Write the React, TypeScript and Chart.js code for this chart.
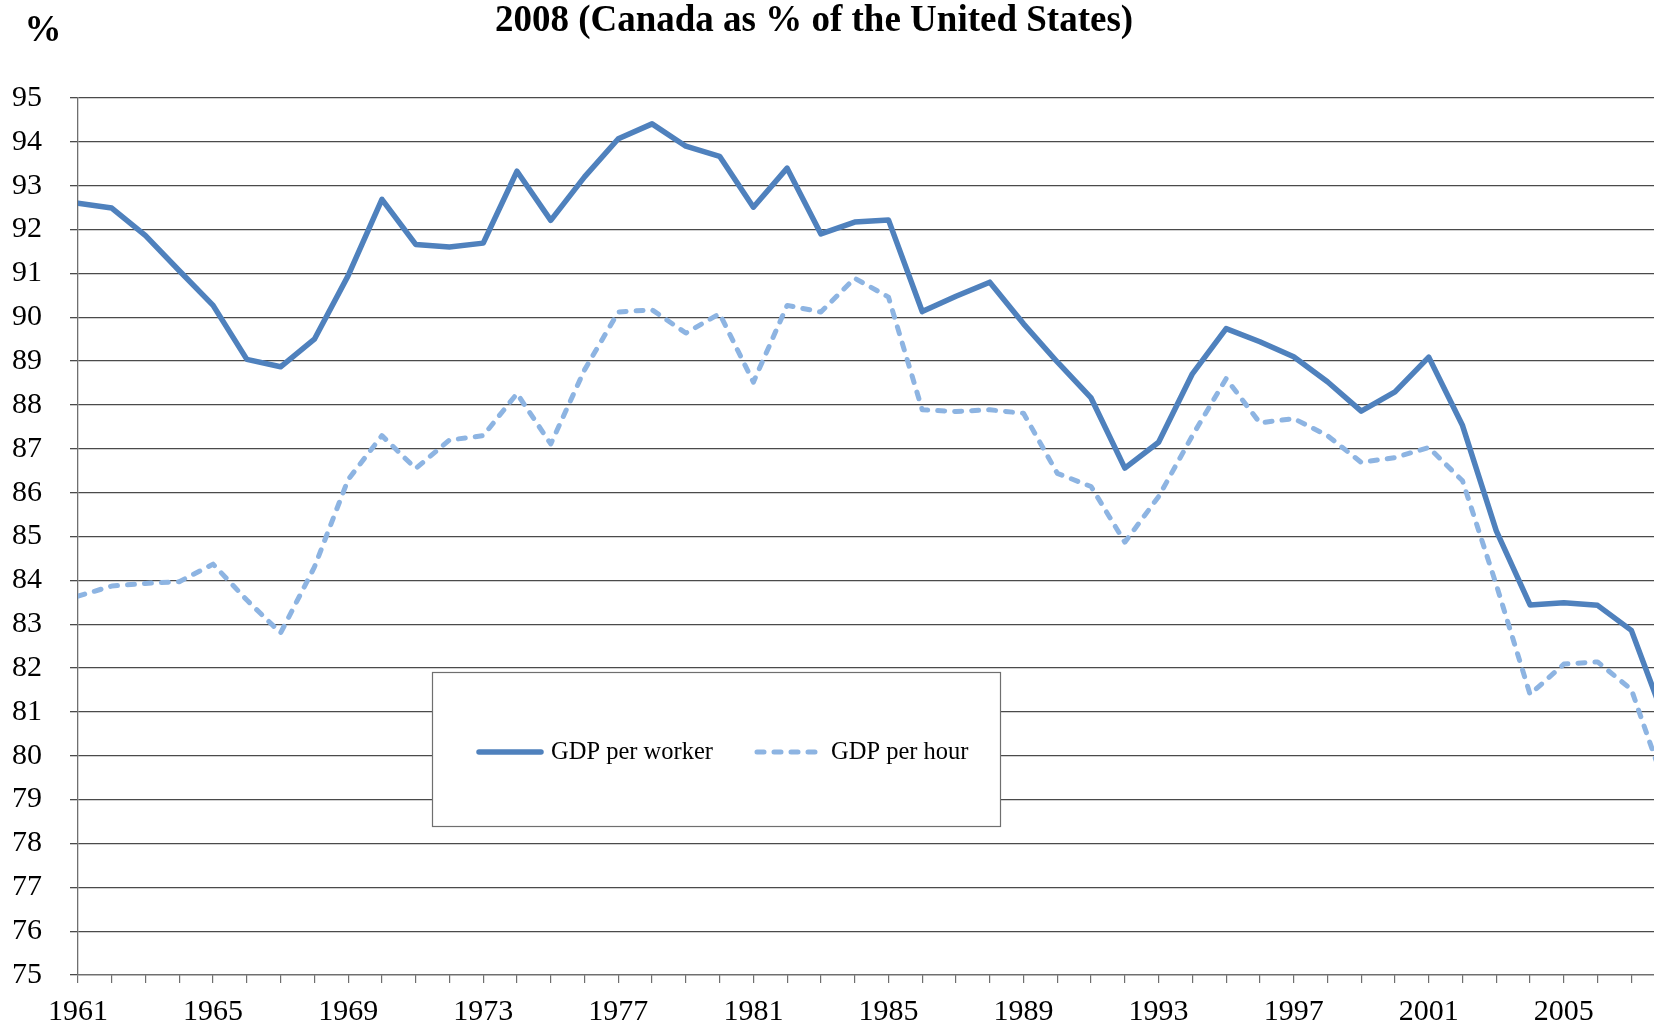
import React, { useEffect, useRef } from "react";
import { Chart, registerables } from "chart.js";

Chart.register(...registerables);

const years: number[] = [
  1961, 1962, 1963, 1964, 1965, 1966, 1967, 1968, 1969, 1970,
  1971, 1972, 1973, 1974, 1975, 1976, 1977, 1978, 1979, 1980,
  1981, 1982, 1983, 1984, 1985, 1986, 1987, 1988, 1989, 1990,
  1991, 1992, 1993, 1994, 1995, 1996, 1997, 1998, 1999, 2000,
  2001, 2002, 2003, 2004, 2005, 2006, 2007, 2008,
];

const gdpPerWorker: number[] = [
  92.6, 92.49, 91.86, 91.06, 90.27, 89.04, 88.87, 89.5, 90.95, 92.69,
  91.66, 91.6, 91.69, 93.33, 92.21, 93.2, 94.07, 94.41, 93.9, 93.67,
  92.51, 93.4, 91.9, 92.17, 92.22, 90.13, 90.48, 90.8, 89.85, 88.98,
  88.16, 86.56, 87.15, 88.71, 89.74, 89.44, 89.1, 88.53, 87.86, 88.3,
  89.09, 87.53, 85.13, 83.44, 83.49, 83.43, 82.86, 80.8,
];

const gdpPerHour: number[] = [
  83.64, 83.87, 83.93, 83.97, 84.37, 83.55, 82.8, 84.3, 86.3, 87.3,
  86.55, 87.2, 87.3, 88.26, 87.11, 88.8, 90.12, 90.17, 89.64, 90.08,
  88.52, 90.27, 90.12, 90.89, 90.46, 87.89, 87.85, 87.89, 87.81, 86.44,
  86.14, 84.87, 85.91, 87.3, 88.6, 87.59, 87.69, 87.3, 86.69, 86.8,
  87.03, 86.27, 83.9, 81.4, 82.09, 82.14, 81.51, 79.3,
];

const seriesLabels: string[] = ["GDP per worker", "GDP per hour"];
const titleText = "2008 (Canada as % of the United States)";
const unitText = "%";

const FONT = "'Liberation Serif', 'Times New Roman', serif";
const SOLID = "#4F81BD";
const DASHED = "#8DB4E2";

const overlayPlugin = {
  id: "overlay",
  afterDraw(chart: any) {
    const ctx = chart.ctx as CanvasRenderingContext2D;
    ctx.save();
    // title + unit
    ctx.fillStyle = "#000";
    ctx.font = `bold 37px ${FONT}`;
    ctx.textAlign = "center";
    ctx.textBaseline = "alphabetic";
    ctx.fillText(titleText, 814, 31);
    ctx.fillText(unitText, 43, 41);

    // legend box
    const bx = 432.5, by = 672.5, bw = 568, bh = 154;
    ctx.fillStyle = "#fff";
    ctx.fillRect(bx, by, bw, bh);
    ctx.strokeStyle = "#6f6f6f";
    ctx.lineWidth = 1.2;
    ctx.strokeRect(bx, by, bw, bh);

    const ly = 752;
    const ds = chart.data.datasets;
    // solid sample
    ctx.lineCap = "round";
    ctx.strokeStyle = ds[0].borderColor;
    ctx.lineWidth = ds[0].borderWidth;
    ctx.setLineDash([]);
    ctx.beginPath();
    ctx.moveTo(479, ly);
    ctx.lineTo(541, ly);
    ctx.stroke();
    // dashed sample
    ctx.strokeStyle = ds[1].borderColor;
    ctx.lineWidth = ds[1].borderWidth;
    ctx.setLineDash(ds[1].borderDash);
    ctx.beginPath();
    ctx.moveTo(757, ly);
    ctx.lineTo(820, ly);
    ctx.stroke();
    ctx.setLineDash([]);

    ctx.fillStyle = "#000";
    ctx.font = `24.5px ${FONT}`;
    ctx.textAlign = "left";
    ctx.textBaseline = "middle";
    ctx.fillText(ds[0].label, 551, ly + 1);
    ctx.fillText(ds[1].label, 831, ly + 1);
    ctx.restore();
  },
};

export default function App() {
  const canvasRef = useRef<HTMLCanvasElement | null>(null);

  useEffect(() => {
    const canvas = canvasRef.current;
    if (!canvas) return;
    const chart = new Chart(canvas, {
      type: "line",
      data: {
        datasets: [
          {
            label: seriesLabels[0],
            data: years.map((y, i) => ({ x: y, y: gdpPerWorker[i] })),
            borderColor: SOLID,
            backgroundColor: SOLID,
            borderWidth: 5.5,
            pointRadius: 0,
            tension: 0,
            borderCapStyle: "round",
            borderJoinStyle: "round",
          },
          {
            label: seriesLabels[1],
            data: years.map((y, i) => ({ x: y, y: gdpPerHour[i] })),
            borderColor: DASHED,
            backgroundColor: DASHED,
            borderWidth: 5,
            borderDash: [7, 10],
            borderCapStyle: "round",
            borderJoinStyle: "round",
            pointRadius: 0,
            tension: 0,
          },
        ],
      },
      options: {
        responsive: false,
        animation: false,
        devicePixelRatio: 1,
        layout: { padding: { top: 98, left: 0, right: 0, bottom: 0 } },
        plugins: {
          legend: { display: false },
          tooltip: { enabled: false },
          title: { display: false },
        },
        scales: {
          x: {
            type: "linear",
            min: 1961,
            max: 2007.67,
            afterFit: (s: any) => {
              s.height = 53;
            },
            ticks: {
              stepSize: 1,
              includeBounds: false,
              autoSkip: false,
              maxRotation: 0,
              minRotation: 0,
              padding: 11,
              color: "#000",
              font: { family: FONT, size: 30 },
              callback: (v: any) =>
                Number.isInteger(v) && (v - 1961) % 4 === 0 ? String(v) : "",
            },
            grid: {
              drawOnChartArea: false,
              drawTicks: true,
              tickLength: 8,
              color: "#6f6f6f",
              lineWidth: 1.2,
            },
            border: { color: "#6f6f6f", width: 1.3 },
          },
          y: {
            min: 75,
            max: 95,
            afterFit: (s: any) => {
              s.width = 78;
            },
            ticks: {
              stepSize: 1,
              padding: 28,
              color: "#000",
              font: { family: FONT, size: 30 },
            },
            grid: {
              color: "#4a4a4a",
              lineWidth: 1.3,
              tickLength: 8,
            },
            border: { color: "#6f6f6f", width: 1.3 },
          },
        },
      },
      plugins: [overlayPlugin],
    } as any);
    return () => chart.destroy();
  }, []);

  return (
    <div
      style={{
        position: "fixed",
        left: 0,
        top: 0,
        width: 1654,
        height: 1028,
        background: "#fff",
      }}
    >
      <canvas ref={canvasRef} width={1654} height={1028} />
    </div>
  );
}
